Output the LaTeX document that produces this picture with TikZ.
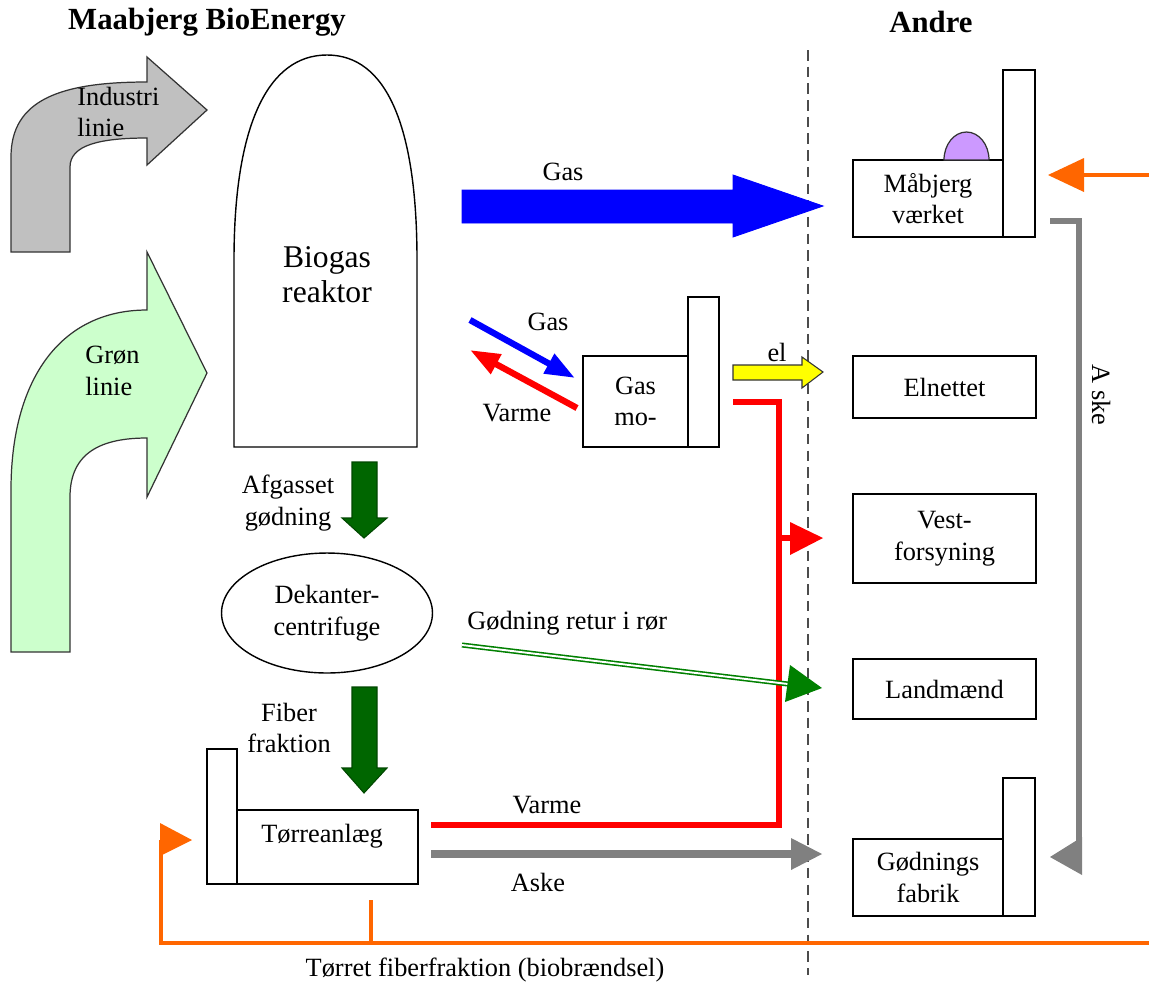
\documentclass[tikz,border=0pt]{standalone}
\usepackage{fontspec}
\setmainfont{Liberation Serif}
\usetikzlibrary{arrows.meta,shapes.geometric}
\definecolor{indgray}{HTML}{C0C0C0}
\definecolor{lgreen}{HTML}{CCFFCC}
\definecolor{dgreen}{HTML}{006600}
\definecolor{pgreen}{HTML}{008000}
\definecolor{orng}{HTML}{FF6600}
\definecolor{ashgray}{HTML}{808080}
\definecolor{purp}{HTML}{CC99FF}
\definecolor{gasblue}{HTML}{0000FF}
\definecolor{heatred}{HTML}{FF0000}
\definecolor{elyellow}{HTML}{FFFF00}
\begin{document}
\begin{tikzpicture}[x=0.02cm,y=-0.02cm,
  font=\fontsize{15}{18}\selectfont,
  box/.style={draw=black, line width=0.8pt, rectangle, inner sep=0pt, align=center},
  lbl/.style={inner sep=0pt, align=center},
  outl/.style={draw=black!80, line width=0.7pt},
  heat/.style={draw=heatred, line width=3.4pt, line join=miter},
  ash/.style={draw=ashgray, line width=4.2pt, line join=miter},
  fuel/.style={draw=orng, line width=2.8pt, line join=miter},
  smallarrow/.style={line width=3.6pt, -{Triangle[length=17pt,width=12pt]}},
]
\useasboundingbox (0,0) rectangle (1149,985);

% headers
\node[lbl, font=\fontsize{17.5}{20}\selectfont\bfseries] (hmb) at (207,22) {Maabjerg BioEnergy};
\node[lbl, font=\fontsize{17.5}{20}\selectfont\bfseries] (han) at (931,22) {Andre};

% dashed border line
\coordinate (dtop) at (808,50);
\coordinate (dbot) at (808,975);
\draw[draw=black!70, line width=1.1pt, dash pattern=on 6pt off 3.5pt] (dtop) -- (dbot);

% Industri linie arrow
\draw[outl, fill=indgray] (11,252) -- (11,157) .. controls (11,100) and (60,82) .. (147,82)
  -- (147,57) -- (207,110) -- (147,165) -- (147,138)
  .. controls (100,138) and (70,145) .. (70,167) -- (70,252) -- cycle;
\node[lbl, align=left, anchor=west] (ind) at (77,112) {Industri\\linie};

% Groen linie arrow
\draw[outl, fill=lgreen] (11,652) -- (11,490) .. controls (11,380) and (60,310) .. (147,310)
  -- (147,252) -- (207,373) -- (147,497) -- (147,438)
  .. controls (102,438) and (70,452) .. (70,497) -- (70,652) -- cycle;
\node[lbl, align=left, anchor=west] (gron) at (85,371) {Grøn\\linie};

% Biogas reactor
\draw[line width=0.8pt] (234,447) -- (234,260) .. controls (234,125) and (268,55) .. (327,55)
  .. controls (386,55) and (417,125) .. (417,260) -- (417,447) -- cycle;
\node[lbl, font=\fontsize{18}{20}\selectfont] (bio) at (327,275) {Biogas\\reaktor};

% green down arrows
\draw[draw=dgreen!70!black, line width=0.6pt, fill=dgreen] (352,462) -- (377,462) -- (377,518) -- (387,518) -- (364,538) -- (342,518) -- (352,518) -- cycle;
\node[lbl] (afg) at (288,503) {Afgasset\\gødning};
\node[draw, ellipse, line width=0.8pt, minimum width=4.22cm, minimum height=2.4cm, inner sep=0pt, align=center] (dek) at (327,613) {Dekanter-\\centrifuge};
\draw[draw=dgreen!70!black, line width=0.6pt, fill=dgreen] (352,687) -- (377,687) -- (377,768) -- (387,768) -- (364,793) -- (342,768) -- (352,768) -- cycle;
\node[lbl] (fib) at (289,728) {Fiber\\fraktion};

% Toerreanlaeg
\node[box, minimum width=0.6cm, minimum height=2.7cm] (torch) at (222,816.5) {};
\node[box, minimum width=3.62cm, minimum height=1.48cm] (tor) at (327.5,847) {};
\node[lbl] (tortxt) at (322,836) {Tørreanlæg};

% Gas motor
\node[box, minimum width=0.62cm, minimum height=3.0cm] (gmch) at (703.5,372) {};
\node[box, minimum width=2.1cm, minimum height=1.82cm] (gm) at (635.5,401.5) {Gas\\mo-};

% Andre boxes
\node[box, minimum width=0.64cm, minimum height=3.34cm] (maabch) at (1019,153.5) {};
\node[box, minimum width=3.0cm, minimum height=1.54cm] (maab) at (928,198.5) {Måbjerg\\værket};
\draw[outl, fill=purp] (944,160) .. controls (944,144.5) and (954.1,132) .. (966.5,132)
  .. controls (978.9,132) and (989,144.5) .. (989,160) -- cycle;
\node[box, minimum width=3.66cm, minimum height=1.24cm] (eln) at (944.5,387) {Elnettet};
\node[box, minimum width=3.66cm, minimum height=1.78cm] (vest) at (944.5,538.5) {Vest-\\forsyning};
\node[box, minimum width=3.66cm, minimum height=1.2cm] (land) at (944.5,689) {Landmænd};
\node[box, minimum width=0.64cm, minimum height=2.76cm] (gfch) at (1019,847) {};
\node[box, minimum width=3.0cm, minimum height=1.54cm] (gf) at (928,877.5) {Gødnings\\fabrik};

% big Gas arrow
\draw[draw=gasblue, line width=0.5pt, fill=gasblue] (462,190) -- (733,190) -- (733,175) -- (823,206) -- (733,237) -- (733,223) -- (462,223) -- cycle;
\node[lbl] (gaslbl) at (563,172) {Gas};

% small gas / heat arrows
\coordinate (sgA) at (470,320);
\coordinate (sgB) at (575,378);
\draw[smallarrow, draw=gasblue, fill=gasblue] (sgA) -- (sgB);
\coordinate (shA) at (577,408);
\coordinate (shB) at (470,350);
\draw[smallarrow, draw=heatred, fill=heatred] (shA) -- (shB);
\node[lbl] (gas2) at (548,322) {Gas};
\node[lbl] (varm1) at (517,413) {Varme};

% el arrow
\draw[draw=black!80, line width=0.6pt, fill=elyellow] (733,365) -- (802,365) -- (802,357) -- (823,372) -- (802,388) -- (802,380) -- (733,380) -- cycle;
\node[lbl] (el) at (777,352) {el};

% heat line
\coordinate (hA) at (733,402);
\coordinate (hB) at (779,402);
\coordinate (hC) at (779,825);
\coordinate (hD) at (431,825);
\draw[heat] (hA) -- (hB) -- (hC) -- (hD);
\coordinate (hV0) at (779,538);
\coordinate (hV) at (792,538);
\draw[heat] (hV0) -- (hV);
\fill[heatred] (790,522) -- (823,538) -- (790,555) -- cycle;
\node[lbl] (varm2) at (547,805) {Varme};

% Goedning retur
\coordinate (gA) at (462,645);
\coordinate (gB) at (788,684);
\draw[draw=pgreen, line width=0.9pt, double=white, double distance=1.1pt] (gA) -- (gB);
\fill[pgreen] (790,665) -- (822,688) -- (785,702) -- cycle;
\node[lbl, anchor=west] (gret) at (467,623) {Gødning retur i rør};

% Aske arrows
\coordinate (aA) at (431,854);
\coordinate (aB) at (792,854);
\draw[ash] (aA) -- (aB);
\fill[ashgray] (791,838) -- (822,854) -- (791,870) -- cycle;
\node[lbl] (ask1) at (538,882) {Aske};
\coordinate (avA) at (1050,221);
\coordinate (avB) at (1079,221);
\coordinate (avC) at (1079,850);
\draw[ash, line width=3.8pt] (avA) -- (avB) -- (avC);
\fill[ashgray] (1082,837) -- (1050,857) -- (1082,875) -- cycle;
\node[lbl, rotate=-90] (ask2) at (1101,395) {A ske};

% orange fuel lines
\coordinate (oA) at (1149,943);
\coordinate (oB) at (161,943);
\coordinate (oC) at (161,840);
\draw[fuel] (oA) -- (oB) -- (oC);
\fill[orng] (160,823) -- (192,840) -- (160,856) -- cycle;
\coordinate (oS1) at (371,900);
\coordinate (oS2) at (371,943);
\draw[fuel] (oS1) -- (oS2);
\coordinate (oM1) at (1149,175);
\coordinate (oM2) at (1084,175);
\draw[fuel] (oM1) -- (oM2);
\fill[orng] (1084,158) -- (1048,175) -- (1084,192) -- cycle;
\node[lbl] (tfib) at (485,970) {Tørret fiberfraktion (biobrændsel)};
\end{tikzpicture}
\end{document}
